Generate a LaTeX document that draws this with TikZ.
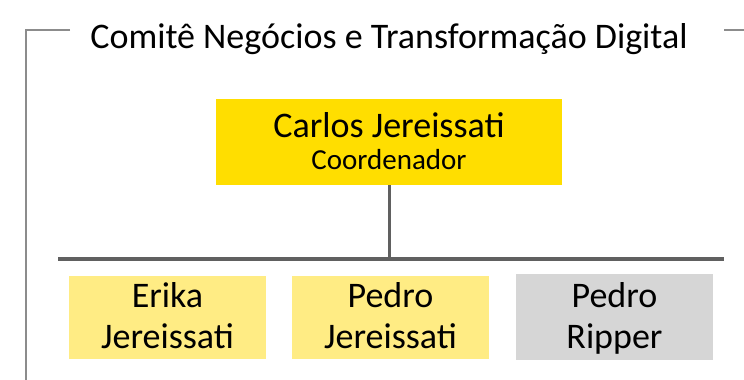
\documentclass[tikz,border=0pt]{standalone}
\usepackage{fontspec}
\setmainfont{Carlito}
\definecolor{topyellow}{HTML}{FFDE00}
\definecolor{lightyellow}{HTML}{FFEC84}
\definecolor{lightgrey}{HTML}{D6D6D6}
\definecolor{barcol}{HTML}{606060}
\definecolor{framecol}{HTML}{8C8C8C}
\tikzset{
  box/.style={inner sep=0pt, draw=none},
  topbox/.style={box, fill=topyellow, minimum width=346pt, minimum height=86pt},
  memberbox/.style={box, fill=lightyellow, minimum width=197pt, minimum height=83pt},
  greybox/.style={box, fill=lightgrey, minimum width=197pt, minimum height=86pt},
  bigtxt/.style={anchor=base, inner sep=0pt, font=\fontsize{36}{40}\selectfont},
  smalltxt/.style={anchor=base, inner sep=0pt, font=\fontsize{29}{32}\selectfont},
  frameline/.style={draw=framecol, line width=1.6pt},
  conn/.style={draw=barcol, line width=3pt},
  barline/.style={draw=barcol, line width=4pt}
}
\begin{document}
\begin{tikzpicture}[x=1pt,y=-1pt]
\useasboundingbox (0,0) rectangle (744,380);
\fill[white] (0,0) rectangle (744,380);
% frame
\coordinate (fA) at (70,30);
\coordinate (fB) at (26,30);
\coordinate (fC) at (26,381);
\coordinate (fD) at (724,30);
\coordinate (fE) at (745,30);
\draw[frameline] (fA) -- (fB) -- (fC);
\draw[frameline] (fD) -- (fE);
% title
\node[bigtxt] (title) at (389,48) {Comitê Negócios e Transformação Digital};
% top box
\node[topbox] (carlos) at (389,142) {};
\node[bigtxt] (carlosName) at (389,137) {Carlos Jereissati};
\node[smalltxt] (carlosRole) at (389,169) {Coordenador};
% bar
\coordinate (barL) at (58,259);
\coordinate (barR) at (724,259);
\coordinate (barM) at (389,259);
\draw[barline] (barL) -- (barR);
\draw[conn] (carlos.south) -- (barM);
% members
\node[memberbox] (erika) at (167.5,317.5) {};
\node[bigtxt] (erikaA) at (167.5,307) {Erika};
\node[bigtxt] (erikaB) at (167.5,348) {Jereissati};
\node[memberbox] (pedroj) at (390.5,317.5) {};
\node[bigtxt] (pedrojA) at (390.5,307) {Pedro};
\node[bigtxt] (pedrojB) at (390.5,348) {Jereissati};
\node[greybox] (pedror) at (614.5,317) {};
\node[bigtxt] (pedrorA) at (614.5,307) {Pedro};
\node[bigtxt] (pedrorB) at (614.5,348) {Ripper};
\end{tikzpicture}
\end{document}
